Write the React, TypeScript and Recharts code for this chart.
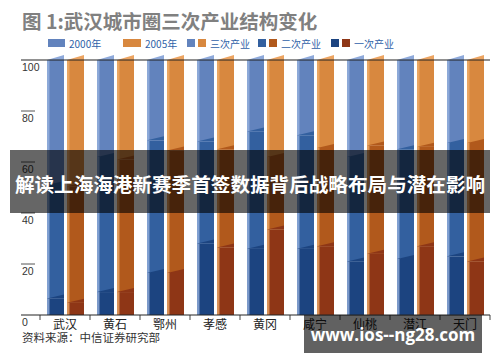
import React from 'react';
import { BarChart, Bar, XAxis, YAxis } from 'recharts';

const cities = ['武汉', '黄石', '鄂州', '孝感', '黄冈', '咸宁', '仙桃', '潜江', '天门'];

// shares in %, bottom to top: primary, secondary, tertiary
const primary2000 = [6.5, 9, 16.5, 28, 26, 26, 21, 22, 23];
const secondary2000 = [44.5, 53, 52, 40, 46, 44.5, 41, 43, 44.5];
const tertiary2000 = [49, 38, 31.5, 32, 28, 29.5, 38, 35, 32.5];

const primary2005 = [4.8, 9, 16.5, 26.5, 33.5, 27, 24, 27, 21];
const secondary2005 = [45.7, 52, 48, 38.5, 28.5, 38.5, 42.5, 39, 46.5];
const tertiary2005 = [49.5, 39, 35.5, 35, 38, 34.5, 33.5, 34, 32.5];

const yTicks = [0, 20, 40, 60, 80, 100];

const data = cities.map((city, i) => ({
  city,
  p2000: primary2000[i],
  s2000: secondary2000[i],
  t2000: tertiary2000[i],
  p2005: primary2005[i],
  s2005: secondary2005[i],
  t2005: tertiary2005[i],
}));

const CJK = '"Noto Sans CJK SC", "Noto Sans", sans-serif';

const blue = { t: '#6283BD', s: '#33609F', p: '#1C4480', hl: '#9BB5E2', cap: '#8EA9DA' };
const orange = { t: '#D8883F', s: '#B1591C', p: '#8E3616', hl: '#F2B06E', cap: '#EBA462' };

const PLOT_LEFT = 20;
const PLOT_RIGHT = 490;
const PLOT_BOTTOM = 315;

function Segment(props: any) {
  const { x, y, width, height, fill, hl, below, cap } = props;
  if (!height || height <= 0) return null;
  return (
    <g>
      <rect x={x} y={y} width={width} height={height} fill={fill} />
      <rect x={x} y={y} width={2.5} height={height} fill={hl} opacity={0.75} />
      {below && (
        <polygon
          points={`${x},${y + height} ${x + width},${y + height - 4} ${x + width},${y + height}`}
          fill={below}
        />
      )}
      {cap && (
        <polygon points={`${x},${y} ${x + width},${y - 5} ${x + width},${y}`} fill={cap} />
      )}
    </g>
  );
}

function YTick(props: any) {
  const { y, payload } = props;
  const full = payload.value === 0 || payload.value === 100;
  return (
    <g>
      <line
        x1={PLOT_LEFT + 1}
        x2={full ? PLOT_RIGHT : 35}
        y1={y}
        y2={y}
        stroke={full ? '#222' : '#555'}
        strokeWidth={1}
      />
      <text x={22} y={y + 11} fontSize={10.5} fill="#333" fontFamily="Liberation Sans, sans-serif">
        {payload.value}
      </text>
    </g>
  );
}

function XTick(props: any) {
  const { x, payload, index } = props;
  return (
    <g>
      <line x1={x - 25} x2={x - 25} y1={PLOT_BOTTOM} y2={PLOT_BOTTOM + 5} stroke="#444" />
      {index === cities.length - 1 && (
        <line x1={x + 25} x2={x + 25} y1={PLOT_BOTTOM} y2={PLOT_BOTTOM + 5} stroke="#444" />
      )}
      <text
        x={x}
        y={PLOT_BOTTOM + 14}
        textAnchor="middle"
        fontSize={12}
        fill="#222"
        fontFamily={CJK}
      >
        {payload.value}
      </text>
    </g>
  );
}

function Swatch({ color, w }: { color: string; w: number }) {
  return <span style={{ display: 'inline-block', width: w, height: 8, background: color, marginRight: 3 }} />;
}

const legendItems = [
  { left: 48, colors: [blue.t], w: 17, label: '2000年' },
  { left: 123, colors: [orange.t], w: 18, label: '2005年' },
  { left: 187, colors: [blue.t, orange.t], w: 8, label: '三次产业' },
  { left: 258, colors: [blue.s, orange.s], w: 8, label: '二次产业' },
  { left: 331, colors: [blue.p, orange.p], w: 8, label: '一次产业' },
];

export default function App() {
  return (
    <div
      style={{
        position: 'absolute',
        left: 0,
        top: 0,
        width: 500,
        height: 362,
        background: '#fff',
        overflow: 'hidden',
        fontFamily: CJK,
      }}
    >
      <div
        style={{
          position: 'absolute',
          left: 22,
          top: 8,
          fontSize: 19.5,
          lineHeight: '26px',
          fontWeight: 700,
          color: '#808080',
          whiteSpace: 'nowrap',
        }}
      >
        图 1:武汉城市圈三次产业结构变化
      </div>

      {legendItems.map((it) => (
        <div
          key={it.label}
          style={{
            position: 'absolute',
            left: it.left,
            top: 36,
            height: 14,
            display: 'flex',
            alignItems: 'center',
            fontSize: 10,
            color: '#2F5FA8',
            whiteSpace: 'nowrap',
          }}
        >
          {it.colors.map((c, i) => (
            <Swatch key={i} color={c} w={it.w} />
          ))}
          <span style={{ marginLeft: 1 }}>{it.label}</span>
        </div>
      ))}

      <div style={{ position: 'absolute', left: 0, top: 0 }}>
        <BarChart
          width={500}
          height={362}
          data={data}
          margin={{ top: 60, right: 10, bottom: 17, left: 20 }}
          barCategoryGap={7}
          barGap={3}
        >
          <XAxis dataKey="city" height={30} axisLine={false} tickLine={false} tick={<XTick />} interval={0} />
          <YAxis
            width={20}
            domain={[0, 100]}
            ticks={yTicks}
            axisLine={false}
            tickLine={false}
            tick={<YTick />}
          />
          <Bar dataKey="p2000" stackId="a" fill={blue.p} isAnimationActive={false}
            shape={(p: any) => <Segment {...p} hl={blue.hl} />} />
          <Bar dataKey="s2000" stackId="a" fill={blue.s} isAnimationActive={false}
            shape={(p: any) => <Segment {...p} hl={blue.hl} below={blue.p} />} />
          <Bar dataKey="t2000" stackId="a" fill={blue.t} isAnimationActive={false}
            shape={(p: any) => <Segment {...p} hl={blue.hl} below={blue.s} cap={blue.cap} />} />
          <Bar dataKey="p2005" stackId="b" fill={orange.p} isAnimationActive={false}
            shape={(p: any) => <Segment {...p} hl={orange.hl} />} />
          <Bar dataKey="s2005" stackId="b" fill={orange.s} isAnimationActive={false}
            shape={(p: any) => <Segment {...p} hl={orange.hl} below={orange.p} />} />
          <Bar dataKey="t2005" stackId="b" fill={orange.t} isAnimationActive={false}
            shape={(p: any) => <Segment {...p} hl={orange.hl} below={orange.s} cap={orange.cap} />} />
        </BarChart>
      </div>

      <div
        style={{
          position: 'absolute',
          left: 22,
          top: 329,
          fontSize: 11.5,
          lineHeight: '16px',
          color: '#333',
          whiteSpace: 'nowrap',
        }}
      >
        资料来源：中信证券研究部
      </div>

      <div
        style={{
          position: 'absolute',
          left: 10,
          top: 150,
          width: 480,
          height: 63,
          background: 'rgba(0,0,0,0.6)',
        }}
      >
        <div
          style={{
            marginTop: 22,
            fontSize: 19.6,
            lineHeight: '24px',
            fontWeight: 700,
            color: '#fff',
            textAlign: 'center',
            whiteSpace: 'nowrap',
          }}
        >
          解读上海海港新赛季首签数据背后战略布局与潜在影响
        </div>
      </div>

      <div
        style={{
          position: 'absolute',
          left: 304,
          top: 315,
          width: 178,
          height: 38,
          background: 'rgba(0,0,0,0.62)',
          display: 'flex',
          alignItems: 'center',
          justifyContent: 'center',
          fontFamily: '"Open Sans", sans-serif',
          fontWeight: 700,
          fontSize: 17,
          color: '#fff',
        }}
      >
        www.ios--ng28.com
      </div>
    </div>
  );
}
